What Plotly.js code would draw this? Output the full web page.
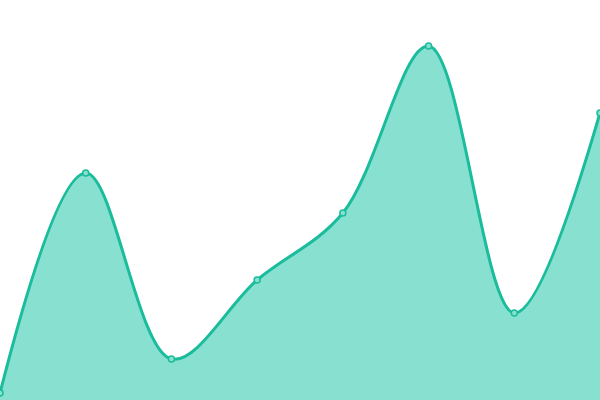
<!DOCTYPE html>
<html>
<head>
<meta charset="utf-8">
<script src="https://cdn.plot.ly/plotly-3.0.1.min.js"></script>
<style>
  html, body { margin: 0; padding: 0; background: #fff; }
  #chart { width: 600px; height: 400px; }
</style>
</head>
<body>
<div id="chart"></div>
<script>
// data
var steps = [0, 1, 2, 3, 4, 5, 6, 7];
var values = [7, 227, 41, 120, 187, 354, 87, 287];

var teal = '#1abc9c';

var area = {
    x: steps,
    y: values,
    type: 'scatter',
    mode: 'lines+markers',
    fill: 'tozeroy',
    fillcolor: '#88e0d0',
    line: { color: teal, width: 3, shape: 'spline', smoothing: 1 },
    marker: { size: 6, color: '#88e0d0', line: { color: teal, width: 1.5 } },
    hoverinfo: 'none',
    cliponaxis: true
};

var layout = {
    width: 600,
    height: 400,
    margin: { l: 0, r: 0, t: 0, b: 0 },
    paper_bgcolor: '#fff',
    plot_bgcolor: '#fff',
    showlegend: false,
    xaxis: { range: [0, 7], visible: false, fixedrange: true },
    yaxis: { range: [0, 400], visible: false, fixedrange: true }
};

Plotly.newPlot('chart', [area], layout, { staticPlot: true });
</script>
</body>
</html>
